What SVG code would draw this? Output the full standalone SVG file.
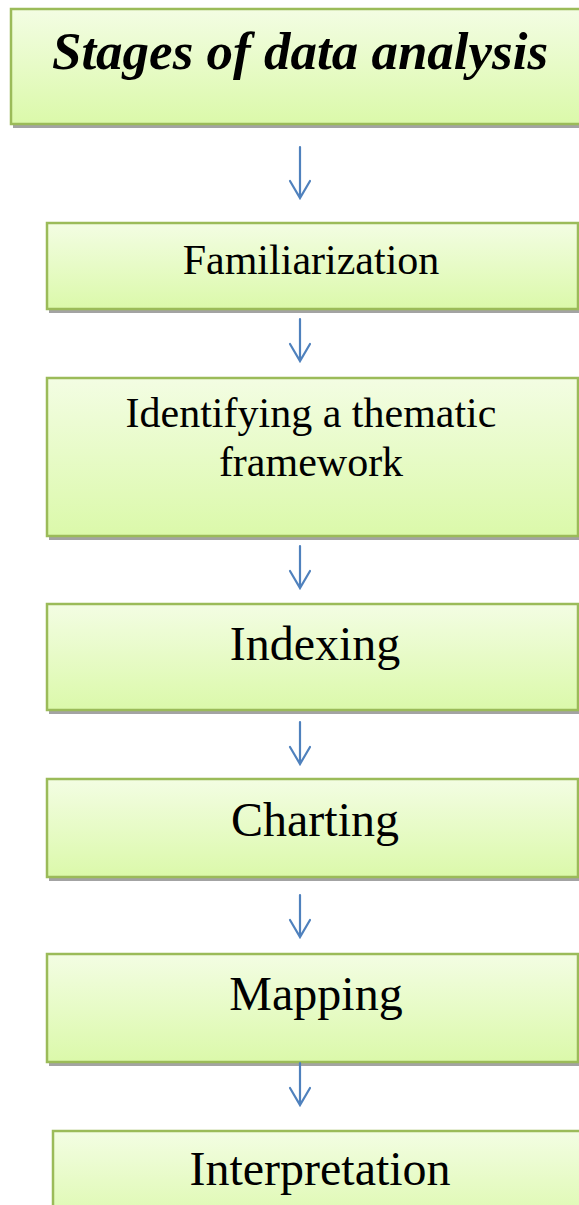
<svg xmlns="http://www.w3.org/2000/svg" width="579" height="1205" viewBox="0 0 579 1205">
<style>
.box{fill:url(#g);stroke:#9bbb59;stroke-width:2.5}
.sh{fill:#a3a3a3}
.t{font-family:"Liberation Serif","Times New Roman",serif;fill:#000;text-anchor:middle}
.title{font-weight:bold;font-style:italic;font-size:53px}
.m{font-size:42px}
.l{font-size:48px}
.arr{stroke:#4f81bd;stroke-width:2.2;fill:none;stroke-linecap:round}
</style>
<defs>
<linearGradient id="g" x1="0" y1="0" x2="0" y2="1">
<stop offset="0" stop-color="#f3fde3"/>
<stop offset="1" stop-color="#dbf9aa"/>
</linearGradient>
</defs>
<rect width="579" height="1205" fill="#fff"/>
<g id="title">
<rect class="sh" x="13" y="13" width="600" height="115"/>
<rect class="box" x="11" y="9" width="600" height="115"/>
<text class="t title" x="300" y="69">Stages of data analysis</text>
</g>
<g id="familiarization">
<rect class="sh" x="49" y="227" width="531" height="86"/>
<rect class="box" x="47" y="223" width="531" height="86"/>
<text class="t m" x="311" y="274">Familiarization</text>
</g>
<g id="framework">
<rect class="sh" x="49" y="382" width="531" height="158"/>
<rect class="box" x="47" y="378" width="531" height="158"/>
<text class="t m" x="311" y="427">Identifying a thematic</text>
<text class="t m" x="311" y="476">framework</text>
</g>
<g id="indexing">
<rect class="sh" x="49" y="608" width="531" height="106"/>
<rect class="box" x="47" y="604" width="531" height="106"/>
<text class="t l" x="315" y="660">Indexing</text>
</g>
<g id="charting">
<rect class="sh" x="49" y="783" width="531" height="98"/>
<rect class="box" x="47" y="779" width="531" height="98"/>
<text class="t l" x="315" y="836">Charting</text>
</g>
<g id="mapping">
<rect class="sh" x="49" y="958" width="531" height="108"/>
<rect class="box" x="47" y="954" width="531" height="108"/>
<text class="t l" x="316" y="1010">Mapping</text>
</g>
<g id="interpretation">
<rect class="box" x="53" y="1131" width="560" height="100"/>
<text class="t l" x="320" y="1185">Interpretation</text>
</g>
<g id="connectors">
<path class="arr" d="M300 147V198M290 181L300 198L310 181"/>
<path class="arr" d="M300 319V361M290 344L300 361L310 344"/>
<path class="arr" d="M300 546V588M290 571L300 588L310 571"/>
<path class="arr" d="M300 722V764M290 747L300 764L310 747"/>
<path class="arr" d="M300 895V937M290 920L300 937L310 920"/>
<path class="arr" d="M300 1063V1105M290 1088L300 1105L310 1088"/>
</g>
</svg>
